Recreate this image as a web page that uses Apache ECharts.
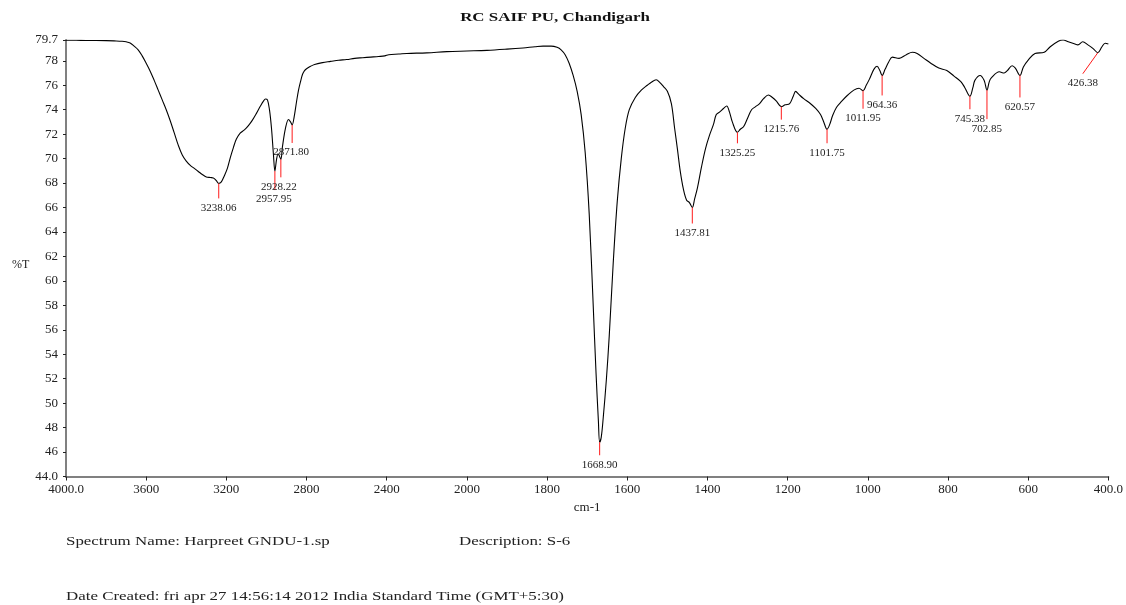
<!DOCTYPE html>
<html>
<head>
<meta charset="utf-8">
<script src="https://cdn.jsdelivr.net/npm/echarts@6/dist/echarts.min.js"></script>
<style>
  html, body { margin: 0; padding: 0; background: #fff; }
  #chart { width: 1126px; height: 605px; }
</style>
</head>
<body>
<div id="chart"></div>
<script>
// IR spectrum, wavenumber (cm-1) against transmittance (%T)
const wavenumbers = [
  4000, 3950, 3900, 3850, 3800, 3760, 3720, 3700, 3680, 3660, 3640, 3620, 3600, 3580, 3560, 3540,
  3520, 3500, 3480, 3460, 3440, 3420, 3400, 3380, 3360, 3340, 3320, 3300, 3280, 3265, 3250, 3238.06,
  3225, 3210, 3195, 3180, 3165, 3150, 3130, 3110, 3090, 3070, 3050, 3030, 3015, 3005, 2995, 2985,
  2975, 2965, 2957.95, 2950, 2942, 2935, 2928.22, 2920, 2905, 2890, 2880, 2871.8, 2862, 2850, 2840,
  2830, 2820, 2810, 2800, 2780, 2760, 2720, 2680, 2640, 2600, 2560, 2520, 2480, 2440, 2410, 2390,
  2340, 2300, 2200, 2100, 2000, 1950, 1900, 1860, 1830, 1810, 1790, 1775, 1765, 1755, 1745, 1735,
  1725, 1715, 1705, 1695, 1685, 1678, 1672, 1668.9, 1665, 1660, 1652, 1645, 1635, 1625, 1615, 1605,
  1595, 1580, 1565, 1550, 1540, 1528, 1518, 1510, 1500, 1490, 1482, 1475, 1468, 1460, 1452, 1445,
  1437.81, 1432, 1425, 1415, 1405, 1395, 1385, 1378, 1370, 1360, 1352, 1345, 1338, 1325.25, 1318, 1310,
  1300, 1290, 1280, 1270, 1260, 1248, 1238, 1228, 1215.76, 1206, 1195, 1186, 1180, 1172, 1160, 1145,
  1130, 1118, 1110, 1101.75, 1095, 1088, 1078, 1065, 1050, 1035, 1022, 1011.95, 1004, 996, 985, 977,
  970, 964.36, 957, 948, 939, 922, 904, 889, 877, 860, 843, 823, 803, 785, 768, 758,
  745.38, 738, 733, 720, 710, 702.85, 697, 692, 672, 660, 652, 640, 632, 620.57, 612, 600,
  583, 560, 545, 525, 513, 500, 485, 476, 464, 451, 438, 426.38, 416, 408, 400
];
const transmittance = [
  79.68, 79.68, 79.66, 79.66, 79.65, 79.63, 79.6, 79.55, 79.45, 79.2, 78.9, 78.4, 77.8, 77.15, 76.4, 75.6,
  74.8, 74.0, 73.1, 72.1, 71.1, 70.3, 69.8, 69.45, 69.2, 68.95, 68.7, 68.5, 68.45, 68.42, 68.2, 67.97,
  68.1, 68.6, 69.2, 70.1, 70.9, 71.6, 72.1, 72.35, 72.7, 73.15, 73.7, 74.3, 74.7, 74.87, 74.8, 74.0,
  72.5, 70.3, 68.98, 69.9, 70.4, 70.2, 69.94, 71.0, 72.5, 73.2, 73.0, 72.75, 73.4, 74.65, 75.6,
  76.3, 76.9, 77.2, 77.35, 77.55, 77.7, 77.85, 77.95, 78.05, 78.1, 78.2, 78.25, 78.3, 78.35, 78.4, 78.5,
  78.55, 78.6, 78.65, 78.75, 78.8, 78.85, 78.95, 79.05, 79.15, 79.2, 79.2, 79.1, 78.9, 78.5, 77.8, 76.8,
  75.5, 73.6, 70.5, 65.5, 58.0, 52.5, 48.5, 46.8, 47.2, 48.8, 52.0, 55.5, 61.5, 66.5, 70.0, 72.5,
  74.0, 75.0, 75.6, 76.0, 76.25, 76.45, 76.2, 75.9, 75.5, 74.5, 72.5, 70.8, 69.0, 67.5, 66.6, 66.4,
  66.0, 66.7, 67.6, 69.3, 70.8, 71.9, 72.8, 73.6, 73.8, 74.1, 74.3, 73.8, 73.0, 72.15, 72.4, 72.6,
  73.3, 74.0, 74.25, 74.5, 74.9, 75.2, 75.0, 74.7, 74.25, 74.4, 74.5, 75.1, 75.5, 75.25, 74.9, 74.55,
  74.1, 73.6, 73.0, 72.4, 72.8, 73.5, 74.2, 74.7, 75.2, 75.6, 75.75, 75.55, 76.0, 76.5, 77.3, 77.55,
  77.2, 76.8, 77.3, 77.9, 78.3, 78.2, 78.5, 78.7, 78.6, 78.2, 77.8, 77.4, 77.2, 76.75, 76.3, 75.8,
  75.1, 75.8, 76.4, 76.8, 76.4, 75.6, 76.3, 76.6, 77.1, 77.0, 77.2, 77.6, 77.4, 76.8, 77.5, 78.06,
  78.6, 78.7, 79.15, 79.6, 79.7, 79.56, 79.4, 79.3, 79.56, 79.3, 79.0, 78.66, 79.15, 79.43, 79.37
];

// Picked peaks (cm-1) and their %T
const peakWavenumbers = [3238.06, 2957.95, 2928.22, 2871.80, 1668.90, 1437.81, 1325.25, 1215.76,
  1101.75, 1011.95, 964.36, 745.38, 702.85, 620.57, 426.38];
const peakTransmittance = [67.97, 68.98, 69.94, 72.75, 46.8, 66.0, 72.15, 74.25,
  72.4, 75.55, 76.8, 75.1, 75.6, 76.8, 78.66];

// Axis ticks
const xTickLabels = [4000, 3600, 3200, 2800, 2400, 2000, 1800, 1600, 1400, 1200, 1000, 800, 600, 400];
const yTickLabels = [44, 46, 48, 50, 52, 54, 56, 58, 60, 62, 64, 66, 68, 70, 72, 74, 76, 78, 79.7];

// Leader line length / text offset for each peak marker (pixels)
const peakMarkerLayout = [
  { len: 15 }, { len: 19, tx: -1 }, { len: 18, tx: -2 }, { len: 18, tx: -1 }, { len: 13 },
  { len: 16 }, { len: 11 }, { len: 13 }, { len: 14 }, { len: 18 }, { len: 20 },
  { len: 13 }, { len: 29 }, { len: 22 }, { len: 21, dx: -15 }
];

// The abscissa is printed at half scale above 2000 cm-1
function toAxis(w) { return w > 2000 ? 2000 + (w - 2000) / 2 : w; }
function fromAxis(u) { return u > 2000 ? 2000 + (u - 2000) * 2 : u; }

const FONT = '"Liberation Serif", "Times New Roman", serif';
const spectrum = wavenumbers.map((w, i) => [toAxis(w), transmittance[i]]);
const peaks = peakWavenumbers.map((w, i) => [toAxis(w), peakTransmittance[i]]);

const chart = echarts.init(document.getElementById('chart'), null, { renderer: 'canvas' });
chart.setOption({
  backgroundColor: '#ffffff',
  animation: false,
  grid: { left: 66, right: 17, top: 40, bottom: 128.5, containLabel: false },
  xAxis: {
    type: 'value', min: 400, max: 3000, interval: 200, inverse: true,
    name: 'cm-1', nameLocation: 'middle', nameGap: 23,
    nameTextStyle: { fontFamily: FONT, fontSize: 13, color: '#222' },
    axisLine: { show: true, onZero: false, lineStyle: { color: '#808080', width: 2 } },
    axisTick: { show: true, length: 4, inside: false, lineStyle: { color: '#222', width: 1 } },
    axisLabel: {
      margin: 7, fontFamily: FONT, fontSize: 13, color: '#222',
      formatter: u => {
        const w = Math.round(fromAxis(u));
        const i = xTickLabels.indexOf(w);
        if (i < 0) return '';
        return (i === 0 || i === xTickLabels.length - 1) ? w.toFixed(1) : String(w);
      }
    },
    splitLine: { show: false }
  },
  yAxis: {
    type: 'value', min: 44, max: 79.7, interval: 2,
    axisLine: { show: true, onZero: false, lineStyle: { color: '#808080', width: 2 } },
    axisTick: { show: true, length: 3, lineStyle: { color: '#222', width: 1 } },
    axisLabel: {
      margin: 8, fontFamily: FONT, fontSize: 13, color: '#222',
      formatter: v => {
        const r = Math.round(v * 10) / 10;
        const i = yTickLabels.indexOf(r);
        if (i < 0) return '';
        return (i === 0 || i === yTickLabels.length - 1) ? r.toFixed(1) : String(r);
      }
    },
    splitLine: { show: false }
  },
  series: [
    {
      type: 'line', data: spectrum, showSymbol: false, smooth: 0.35,
      lineStyle: { color: '#000', width: 1.1 }, clip: true, z: 3
    },
    {
      type: 'custom', data: peaks, clip: false, z: 4,
      renderItem: (params, api) => {
        const i = params.dataIndex;
        const p = api.coord([api.value(0), api.value(1)]);
        const lay = peakMarkerLayout[i];
        const x2 = p[0] + (lay.dx || 0);
        const y2 = p[1] + lay.len;
        return {
          type: 'group',
          children: [
            { type: 'line', shape: { x1: p[0], y1: p[1], x2: x2, y2: y2 },
              style: { stroke: '#ff1a1a', lineWidth: 1 } },
            { type: 'text',
              style: { text: peakWavenumbers[i].toFixed(2), x: x2 + (lay.tx || 0), y: y2 + 4,
                align: 'center', verticalAlign: 'top',
                font: '11px ' + FONT, fill: '#222' } }
          ]
        };
      }
    }
  ],
  graphic: [
    { type: 'text', x: 555, y: 18, scaleX: 1.3,
      style: { text: 'RC SAIF PU, Chandigarh', align: 'center', verticalAlign: 'middle',
        font: 'bold 13px ' + FONT, fill: '#111' } },
    { type: 'text', x: 12, y: 265,
      style: { text: '%T', align: 'left', verticalAlign: 'middle', font: '12px ' + FONT, fill: '#222' } },
    { type: 'text', x: 66, y: 542, scaleX: 1.3,
      style: { text: 'Spectrum Name: Harpreet GNDU-1.sp', verticalAlign: 'middle', font: '13px ' + FONT, fill: '#222' } },
    { type: 'text', x: 459, y: 542, scaleX: 1.3,
      style: { text: 'Description: S-6', verticalAlign: 'middle', font: '13px ' + FONT, fill: '#222' } },
    { type: 'text', x: 66, y: 597, scaleX: 1.3,
      style: { text: 'Date Created: fri apr 27 14:56:14 2012 India Standard Time (GMT+5:30)', verticalAlign: 'middle', font: '13px ' + FONT, fill: '#222' } }
  ]
});
</script>
</body>
</html>
